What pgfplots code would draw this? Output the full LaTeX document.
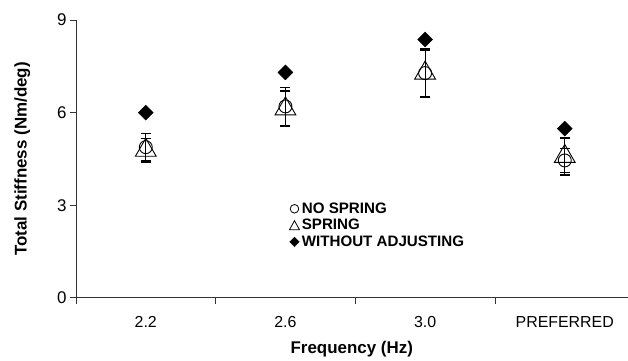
\documentclass[border=0pt]{standalone}
\usepackage{pgfplots}
\pgfplotsset{compat=1.18}
\usepackage{fontspec}
\setmainfont{Liberation Sans}
\begin{document}
\begin{tikzpicture}
\begin{axis}[name=ax, scale only axis, width=552bp, height=278bp,
 xmin=-0.5, xmax=3.45, ymin=0, ymax=9,
 axis x line*=bottom, axis y line*=left,
 axis line style={black!80, line width=0.8bp, -},
 xtick={0,1,2,3}, xticklabels={2.2,2.6,3.0,PREFERRED},
 major x tick style={draw=none},
 minor xtick={-0.5,0.5,1.5,2.5},
 ytick={0,3,6,9},
 tick align=outside, major tick length=6bp, minor tick length=6bp,
 tick style={black!80, line width=0.8bp},
 ticklabel style={font=\fontsize{16}{19}\selectfont},
 yticklabel style={font=\fontsize{17}{20}\selectfont},
 xticklabel style={yshift=-9bp},
 /pgf/number format/assume math mode=true,
 xlabel={Frequency (Hz)}, ylabel={Total Stiffness (Nm/deg)},
 label style={font=\bfseries\fontsize{17}{20}\selectfont},
 xlabel style={yshift=-7bp},
 ylabel style={yshift=20bp},
 legend style={at={(0.386,0.35)}, anchor=north west, draw=none, fill=none,
   font=\bfseries\fontsize{15.2}{18}\selectfont, row sep=0.5bp,
   cells={anchor=west}, inner sep=0pt},
 legend cell align=left,
 error bars/y dir=both, error bars/y explicit,
 error bars/error bar style={line width=1.2bp, black},
 error bars/error mark options={rotate=90, mark size=5bp, line width=1.2bp, black},
]
\addplot[only marks, mark=o, mark size=6.5bp, line width=0.9bp, black,
  legend image code/.code={\draw[black, line width=0.8bp] (0.15cm,0cm) circle (4.3bp);}]
  coordinates {(0,4.88) +- (0,0.45) (1,6.2) +- (0,0.62) (2,7.28) +- (0,0.75) (3,4.45) +- (0,0.38)};
\addlegendentry{NO SPRING}
\addplot[only marks, mark=triangle, mark size=12bp, line width=0.9bp, black,
  legend image code/.code={\draw[black, line width=0.8bp] (0.15cm,4.6bp) -- (0.15cm-5bp,-4.4bp) -- (0.15cm+5bp,-4.4bp) -- cycle;}]
  coordinates {(0,4.78) +- (0,0.38) (1,6.12) +- (0,0.58) (2,7.28) +- (0,0.8) (3,4.58) +- (0,0.6)};
\addlegendentry{SPRING}
\addplot[only marks, mark=square*, mark size=5.3bp, black, mark options={rotate=45},
  error bars/y dir=none,
  legend image code/.code={\fill[black] (0.15cm,0cm) +(0,4.8bp) -- +(4.8bp,0) -- +(0,-4.8bp) -- +(-4.8bp,0) -- cycle;}]
  coordinates {(0,6.0) (1,7.3) (2,8.37) (3,5.48)};
\addlegendentry{WITHOUT ADJUSTING}
\end{axis}
\path[use as bounding box] ([shift={(-76bp,-62bp)}]ax.south west) rectangle ([shift={(0bp,20bp)}]ax.north east);
\end{tikzpicture}
\end{document}
